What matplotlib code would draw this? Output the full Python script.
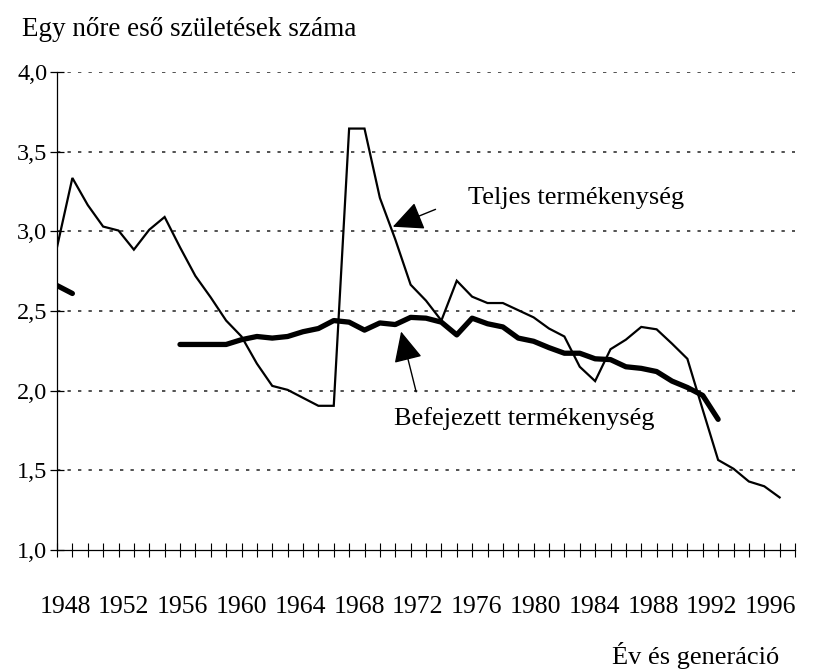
import numpy as np
import matplotlib
matplotlib.use("Agg")
import matplotlib.pyplot as plt
from matplotlib.ticker import FixedLocator, FixedFormatter, FuncFormatter

years = list(range(1948, 1996))
teljes = [2.90, 3.335, 3.165, 3.03, 3.005, 2.885, 3.01, 3.09, 2.90, 2.72,
          2.585, 2.44, 2.34, 2.17, 2.03, 2.005, 1.955, 1.905, 1.905, 3.645,
          3.645, 3.21, 2.95, 2.665, 2.565, 2.44, 2.69, 2.59, 2.55, 2.55,
          2.505, 2.46, 2.39, 2.34, 2.15, 2.06, 2.26, 2.32, 2.40, 2.385,
          2.295, 2.20, 1.88, 1.565, 1.51, 1.43, 1.40, 1.33]

bef_years = list(range(1948, 1992))
befejezett = [2.66, 2.61, np.nan, np.nan, np.nan, np.nan, np.nan, np.nan,
              2.29, 2.29, 2.29, 2.29, 2.32, 2.34, 2.33, 2.34, 2.37, 2.39,
              2.44, 2.43, 2.38, 2.425, 2.415, 2.46, 2.455, 2.43, 2.35, 2.455,
              2.42, 2.40, 2.33, 2.31, 2.27, 2.235, 2.235, 2.20, 2.195, 2.15,
              2.14, 2.12, 2.06, 2.02, 1.97, 1.82]

x_label_years = list(range(1948, 1997, 4))
y_ticks = [1.0, 1.5, 2.0, 2.5, 3.0, 3.5, 4.0]

title = "Egy nőre eső születések száma"
xlabel = "Év és generáció"
lab_teljes = "Teljes termékenység"
lab_bef = "Befejezett termékenység"

FONT = "Liberation Serif"
plt.rcParams["font.family"] = [FONT, "DejaVu Serif"]

fig = plt.figure(figsize=(8.25, 6.72), dpi=100)
ax = fig.add_axes([57 / 825, 1 - 550 / 672, 738 / 825, 478 / 672])

ax.plot(years, teljes, color="black", lw=1.6, solid_joinstyle="miter")
ax.plot(bef_years, befejezett, color="black", lw=3.8, solid_capstyle="round",
        solid_joinstyle="round")

ax.set_xlim(1948, 1996)
ax.set_ylim(1.0, 4.0)

for s in ["top", "right"]:
    ax.spines[s].set_visible(False)
ax.spines["left"].set_linewidth(0.9)
ax.spines["bottom"].set_linewidth(0.9)

for yv in y_ticks[1:]:
    ax.axhline(yv, color="#333333", lw=1.2, linestyle=(0, (2, 4.3)), zorder=0)

ax.set_yticks(y_ticks)
ax.yaxis.set_major_formatter(FuncFormatter(lambda v, p: f"{v:.1f}".replace(".", ",")))
ax.tick_params(axis="y", direction="inout", length=10, width=0.9, pad=2,
               labelsize=17.5)

# year tick marks on every year; the printed category labels sit on a
# slightly narrower pitch than the ticks (as in the original chart)
span = 1996 - 1948
px_per_year = 738 / span
label_pos = [1948 + (8 + i * 58.8) / px_per_year for i in range(len(x_label_years))]
ax.xaxis.set_minor_locator(FixedLocator(list(range(1948, 1997))))
ax.xaxis.set_major_locator(FixedLocator(label_pos))
ax.xaxis.set_major_formatter(FixedFormatter([str(y) for y in x_label_years]))
ax.tick_params(axis="x", which="minor", direction="inout", length=10, width=0.8)
ax.tick_params(axis="x", which="major", length=0, pad=33, labelsize=18.5)

# annotations
ax.annotate("", xy=(1969.84, 3.029), xytext=(1972.62, 3.138),
            arrowprops=dict(arrowstyle="-|>,head_length=0.95,head_width=0.45",
                            mutation_scale=20, lw=1.0, color="black",
                            shrinkA=0, shrinkB=0))
ax.annotate("", xy=(1970.38, 2.371), xytext=(1971.36, 1.993),
            arrowprops=dict(arrowstyle="-|>,head_length=0.95,head_width=0.45",
                            mutation_scale=20, lw=1.0, color="black",
                            shrinkA=0, shrinkB=0))
ax.text(1974.70, 3.171, lab_teljes, fontsize=19, va="baseline", ha="left")
ax.text(1969.95, 1.784, lab_bef, fontsize=19, va="baseline", ha="left")

fig.text(22 / 825, 1 - 36 / 672, title, fontsize=19.5, va="baseline", ha="left")
fig.text(612 / 825, 1 - 664 / 672, xlabel, fontsize=19, va="baseline", ha="left")

fig.savefig("out.png", dpi=100)
